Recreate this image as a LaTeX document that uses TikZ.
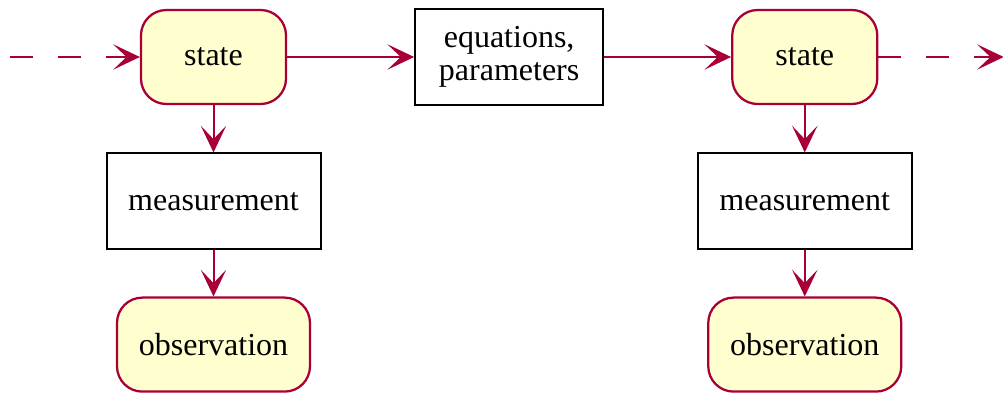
\documentclass[tikz,border=0pt]{standalone}
\usepackage{fontspec}
\setmainfont{Liberation Serif}
\usetikzlibrary{positioning,arrows.meta}
\definecolor{umlred}{HTML}{A80036}
\definecolor{umlfill}{HTML}{FEFECE}

\begin{document}
\begin{tikzpicture}[
x=0.75pt,y=-0.75pt,
node distance=35.5pt and 95.25pt,
  snode/.style={draw=umlred,fill=umlfill,line width=1.7pt,rounded corners=19pt,minimum width=108.75pt,minimum height=70.5pt},
  onode/.style={snode,minimum width=144.75pt},
  bnode/.style={draw,fill=white,line width=1.5pt,minimum width=160.5pt,minimum height=72pt,align=center},
  flow/.style={umlred,line width=1.5pt,-{Stealth[length=20pt,width=19pt,inset=10pt]}},
  dflow/.style={flow,dash pattern=on 17.25pt off 18.75pt},
  font=\fontsize{24}{25}\selectfont
]
\useasboundingbox (0,0) rectangle (1003,394);
\node[snode] (S1) at (213.5,57) {state};
\node[bnode,minimum width=141pt,right=of S1] (E) {equations,\\parameters};
\node[snode,right=of E] (S2) {state};
\node[bnode,below=of S1] (M1) {measurement};
\node[onode,below=34.5pt of M1] (O1) {observation};
\node[bnode,below=of S2] (M2) {measurement};
\node[onode,below=34.5pt of M2] (O2) {observation};
\coordinate[left=97.5pt of S1] (in);
\coordinate[right=94pt of S2] (out);
\draw[dflow] (in) -- (S1);
\draw[flow] (S1) -- (E);
\draw[flow] (E) -- (S2);
\draw[dflow] (S2) -- (out);
\draw[flow] (S1) -- (M1);
\draw[flow] (M1) -- (O1);
\draw[flow] (S2) -- (M2);
\draw[flow] (M2) -- (O2);
\end{tikzpicture}
\end{document}
